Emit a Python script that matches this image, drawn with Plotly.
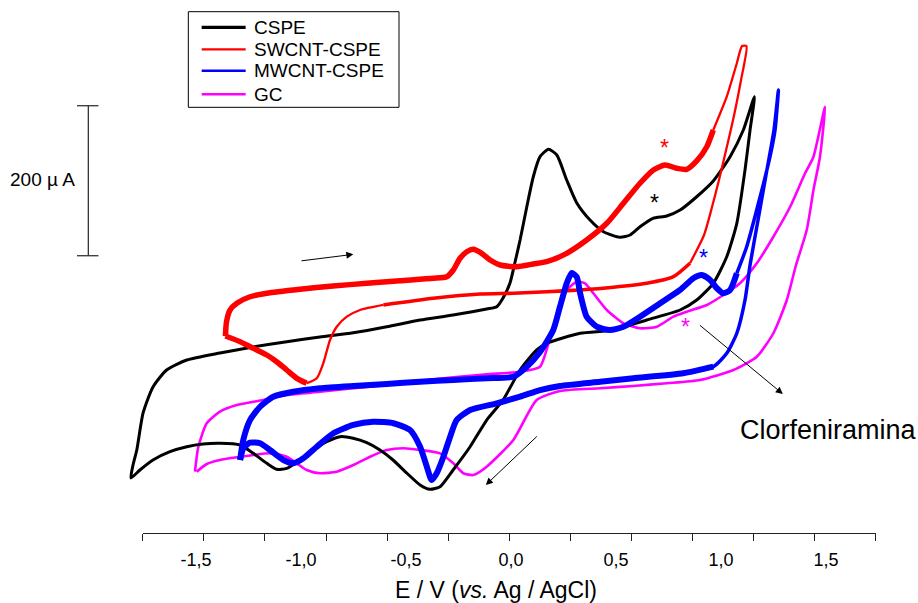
import plotly.graph_objects as go

# ---------------- data (E in V vs Ag/AgCl, I in µA, curves offset as in the figure) ----------------
# CSPE (black)
cspe_fwd_E = [-1.810, -1.800, -1.782, -1.752, -1.705, -1.640, -1.544, -1.386, -1.229, -1.068,
              -0.910, -0.752, -0.592, -0.433, -0.276, -0.116, -0.068, -0.038, -0.005, 0.019,
              0.043, 0.075, 0.106, 0.138, 0.178, 0.218, 0.265, 0.313, 0.376, 0.440,
              0.519, 0.567, 0.614, 0.676, 0.741, 0.805, 0.884, 0.963, 1.043, 1.106, 1.159]
cspe_fwd_I = [16, 33.3, 53.3, 102.7, 137.3, 160, 173.3, 182.7, 190.7, 197.7,
              204, 209.7, 217.7, 226.7, 233.3, 241.3, 244.4, 256, 276, 304,
              333.3, 377.7, 417.7, 444.4, 454.3, 446.7, 413.3, 382.7, 360, 344.4,
              337, 340, 351, 362.3, 365.3, 373.3, 391, 412, 444.4, 480, 524.4]
cspe_rev_E = [1.138, 1.114, 1.075, 1.027, 0.963, 0.884, 0.805, 0.646, 0.487, 0.329,
              0.170, 0.122, 0.043, -0.038, -0.116, -0.195, -0.276, -0.338, -0.386, -0.433,
              -0.497, -0.562, -0.624, -0.687, -0.752, -0.814, -0.878, -0.943, -1.005, -1.068,
              -1.116, -1.163, -1.229, -1.290, -1.386, -1.467, -1.544, -1.624, -1.705, -1.767, -1.810]
cspe_rev_I = [480, 426.7, 355.6, 311, 275.6, 253.3, 240, 226.7, 213.3, 209,
              195.6, 186.7, 160, 120, 93.3, 57.7, 26.7, 4.4, 0.9, 6.7,
              22.7, 40, 53.3, 63.1, 69, 71.1, 64.4, 53.3, 40, 28.9,
              27.6, 35.6, 49.3, 60, 62.3, 61.3, 57.7, 51.1, 40, 26.7, 16]

# SWCNT-CSPE (red)
sw_fwd_E = [-1.360, -1.355, -1.338, -1.306, -1.243, -1.163, -1.005, -0.848, -0.687, -0.529,
            -0.371, -0.306, -0.275, -0.243, -0.211, -0.180, -0.140, -0.100, -0.052, 0.027,
            0.106, 0.170, 0.265, 0.360, 0.456, 0.535, 0.614, 0.678, 0.733, 0.789,
            0.837, 0.884, 0.932, 0.963, 1.027, 1.075, 1.100]
sw_fwd_I = [205.3, 224, 240, 249, 257.7, 262.3, 267.6, 272, 275.6, 279.1,
            282.3, 284.4, 293.3, 309, 317.7, 321, 315.6, 306.7, 300, 297.7,
            301.3, 304.4, 315.6, 333.3, 355.6, 382.3, 409, 426.7, 433.3, 429,
            427.6, 438.7, 457.7, 480, 524.4, 569, 592]
sw_rev_E = [1.121, 1.095, 1.057, 1.024, 0.990, 0.957, 0.919, 0.852, 0.773, 0.646,
            0.487, 0.329, 0.170, 0.011, -0.148, -0.370, -0.608, -0.719, -0.782, -0.830,
            -0.862, -0.894, -0.925, -0.973, -1.020, -1.068, -1.116, -1.163, -1.227, -1.290, -1.360]
sw_rev_I = [592, 546.7, 493.3, 453.3, 413.3, 377.3, 340, 302.3, 284.4, 275.6,
            270.3, 266.7, 264.4, 262.3, 261.3, 255.6, 246.7, 240, 231.1, 217.7,
            200, 169, 148.9, 142.3, 148.9, 160, 171.1, 180, 188.9, 197.7, 205.3]

# MWCNT-CSPE (blue)
mw_fwd_E = [-1.290, -1.275, -1.243, -1.195, -1.132, -1.037, -0.910, -0.751, -0.592, -0.433,
            -0.275, -0.116, 0.011, 0.075, 0.138, 0.201, 0.233, 0.265, 0.289, 0.313,
            0.329, 0.360, 0.408, 0.471, 0.535, 0.614, 0.710, 0.805, 0.868, 0.908,
            0.948, 0.980, 1.011, 1.043, 1.075, 1.122, 1.186, 1.233, 1.257, 1.273]
mw_fwd_I = [40, 66.7, 93.3, 111, 124.4, 131, 135.6, 138.7, 141.3, 144.4,
            146.7, 149, 151, 164.4, 184, 213.3, 244.4, 275.6, 289.3, 284,
            262.3, 231.1, 217.7, 213.3, 217.7, 231.1, 249, 266.7, 282.3, 286.7,
            280, 269, 262.3, 266.7, 289, 324.4, 391, 444.4, 480, 533.3]
mw_rev_E = [1.252, 1.214, 1.176, 1.138, 1.114, 1.075, 1.027, 0.963, 0.820, 0.582,
            0.424, 0.233, 0.138, 0.043, -0.068, -0.195, -0.259, -0.290, -0.322, -0.354,
            -0.378, -0.401, -0.433, -0.481, -0.560, -0.656, -0.751, -0.846, -0.925, -0.989,
            -1.037, -1.084, -1.148, -1.195, -1.243, -1.275, -1.290]
mw_rev_I = [480, 420, 360, 300, 253.3, 209, 182.3, 164.4, 155.6, 149,
            144.4, 138.7, 133.3, 124.4, 115.6, 106.7, 93.3, 71.1, 44.4, 22.3,
            13.3, 31.1, 57.7, 80, 89, 91.1, 86.7, 75.6, 57.7, 42.3,
            35.6, 40, 53.3, 62.3, 63.1, 55.6, 40]

# GC (magenta)
gc_fwd_E = [-1.505, -1.489, -1.449, -1.386, -1.306, -1.180, -1.068, -0.910, -0.751, -0.592,
            -0.433, -0.275, -0.116, 0.043, 0.138, 0.176, 0.218, 0.265, 0.313, 0.352,
            0.392, 0.456, 0.535, 0.614, 0.694, 0.773, 0.837, 0.932, 1.011, 1.090,
            1.170, 1.249, 1.329, 1.400, 1.440, 1.495]
gc_fwd_I = [24.4, 57.7, 88.9, 104.4, 113.3, 120, 126.7, 131, 135.6, 140,
            145.7, 150.3, 154.3, 157.7, 164.4, 193.3, 231.1, 266.7, 277.7, 275.6,
            262.3, 240, 222.3, 215.6, 217.7, 231.1, 237.7, 246.7, 260, 275.6,
            302.3, 337.7, 377.7, 422.3, 444.4, 511.1]
gc_rev_E = [1.471, 1.440, 1.408, 1.357, 1.313, 1.249, 1.170, 1.059, 0.900, 0.741,
            0.582, 0.424, 0.233, 0.122, 0.011, -0.116, -0.180, -0.227, -0.275, -0.338,
            -0.433, -0.513, -0.592, -0.671, -0.751, -0.830, -0.910, -0.973, -1.020, -1.068,
            -1.148, -1.227, -1.306, -1.386, -1.449, -1.497]
gc_rev_I = [444.4, 400, 346.7, 300, 253.3, 209, 177.7, 160, 146.7, 142.3,
            138.7, 135.6, 132, 120, 66.7, 31.1, 20, 22.3, 35.6, 48.9,
            53.3, 55.6, 53.3, 44.4, 33.3, 24.4, 22.3, 26.7, 35.6, 44.4,
            48.9, 46.7, 43.6, 40, 34.7, 24.4]

tick_vals = [-1.5, -1.0, -0.5, 0.0, 0.5, 1.0, 1.5]
tick_text = ["-1,5", "-1,0", "-0,5", "0,0", "0,5", "1,0", "1,5"]

legend_names = ["CSPE", "SWCNT-CSPE", "MWCNT-CSPE", "GC"]

# peak markers (asterisks) : (E, I, colour)
stars = [(0.729, 456, "#ff0000"), (0.681, 383, "#000000"),
         (0.914, 309, "#0000ff"), (0.833, 217, "#ff00ff")]

BLACK, RED, BLUE, MAG = "#000000", "#ff0000", "#0000ff", "#ff00ff"
FONT = "Liberation Sans, Arial, sans-serif"

fig = go.Figure()


def seg(xs, ys, color, width):
    fig.add_trace(go.Scatter(
        x=xs, y=ys, mode="lines", showlegend=False,
        line=dict(color=color, width=width, shape="spline", smoothing=0.6),
        hoverinfo="skip"))


# GC
seg(gc_fwd_E + gc_rev_E, gc_fwd_I + gc_rev_I, MAG, 2.6)
# CSPE
seg(cspe_fwd_E + cspe_rev_E, cspe_fwd_I + cspe_rev_I, BLACK, 3.0)
# SWCNT-CSPE
seg(sw_fwd_E[:34], sw_fwd_I[:34], RED, 5.5)
seg(sw_fwd_E[33:] + sw_rev_E[:8], sw_fwd_I[33:] + sw_rev_I[:8], RED, 2.3)
seg(sw_rev_E[7:17], sw_rev_I[7:17], RED, 3.6)
seg(sw_rev_E[16:24], sw_rev_I[16:24], RED, 2.3)
seg(sw_rev_E[23:], sw_rev_I[23:], RED, 5.5)
# MWCNT-CSPE
seg(mw_fwd_E[:35], mw_fwd_I[:35], BLUE, 6)
seg(mw_fwd_E[34:] + mw_rev_E[:9], mw_fwd_I[34:] + mw_rev_I[:9], BLUE, 3.5)
seg(mw_rev_E[7:], mw_rev_I[7:], BLUE, 6)

# empty trace that activates the tick-mark axis (x2)
fig.add_trace(go.Scatter(x=[], y=[], xaxis="x2", yaxis="y", showlegend=False, hoverinfo="skip"))

annotations = []
for e, i, c in stars:
    annotations.append(dict(x=e, y=i, xref="x", yref="y", text="*", showarrow=False,
                            xanchor="center", yanchor="middle",
                            font=dict(size=23, color=c, family=FONT)))

# scan-direction arrows and analyte arrow
arrows = [((-1.005, 305.3), (-0.751, 314.2)),
          ((0.130, 73.3), (-0.120, 6.7)),
          ((0.892, 221.3), (1.294, 128.0))]
for (te, ti), (he, hi) in arrows:
    annotations.append(dict(x=he, y=hi, ax=te, ay=ti, xref="x", yref="y", axref="x", ayref="y",
                            text="", showarrow=True, arrowhead=2, arrowsize=1.4,
                            arrowwidth=1, arrowcolor="#000000", standoff=0, startstandoff=0))

annotations.append(dict(x=1.510, y=80, xref="x", yref="y", text="Clorfeniramina",
                        xanchor="center", yanchor="middle", showarrow=False,
                        font=dict(size=27, color="#000000", family=FONT)))
annotations.append(dict(x=-0.10, y=0.69, xref="paper", yref="paper", text="200 µ A",
                        xanchor="center", yanchor="middle", showarrow=False,
                        font=dict(size=19, color="#000000", family=FONT)))
annotations.append(dict(x=0.482, y=-0.111, xref="paper", yref="paper",
                        text="E / V (<i>vs.</i> Ag / AgCl)", showarrow=False,
                        xanchor="center", yanchor="middle",
                        font=dict(size=23, color="#000000", family=FONT)))

# 200 µA scale bar
sb = dict(type="line", xref="paper", yref="paper", line=dict(color="#333333", width=1.3))
shapes = [dict(sb, x0=-0.0406, x1=-0.0406, y0=0.5405, y1=0.8329),
          dict(sb, x0=-0.0551, x1=-0.0276, y0=0.8329, y1=0.8329),
          dict(sb, x0=-0.0551, x1=-0.0276, y0=0.5405, y1=0.5405)]

# legend box (drawn by hand to match the reference layout)
shapes.append(dict(type="rect", xref="paper", yref="paper", x0=0.0876, x1=0.3577,
                   y0=0.8298, y1=1.0162, line=dict(color="#000000", width=1),
                   fillcolor="white", layer="above"))
leg_rows = [0.9858, 0.9429, 0.9012, 0.8552]
leg_cols = [(BLACK, 3.2), (RED, 2.3), (BLUE, 2.6), (MAG, 2.6)]
for name, yy, (c, w) in zip(legend_names, leg_rows, leg_cols):
    shapes.append(dict(type="line", xref="paper", yref="paper", x0=0.1047, x1=0.1611,
                       y0=yy, y1=yy, line=dict(color=c, width=w), layer="above"))
    annotations.append(dict(x=0.1688, y=yy, xref="paper", yref="paper", text=name,
                            xanchor="left", yanchor="middle", showarrow=False,
                            font=dict(size=19, color="#000000", family=FONT)))

fig.update_layout(
    width=918, height=603,
    margin=dict(l=120, r=18, t=20, b=70),
    paper_bgcolor="white", plot_bgcolor="rgba(0,0,0,0)",
    showlegend=False,
    font=dict(family=FONT, color="#000000"),
    xaxis=dict(range=[-1.862, 1.852], showline=False, showgrid=False, zeroline=False,
               tickvals=tick_vals, ticktext=tick_text, ticks="outside", ticklen=10,
               tickcolor="rgba(0,0,0,0)", tickfont=dict(size=18, family=FONT)),
    xaxis2=dict(domain=[0.0291, 0.9692], range=[0, 12], anchor="y", side="bottom",
                showline=True, linecolor="#222222", linewidth=1.3,
                tickmode="array", tickvals=list(range(13)), ticks="outside", ticklen=7,
                tickwidth=1.3, tickcolor="#222222", showticklabels=False,
                showgrid=False, zeroline=False),
    yaxis=dict(range=[-57.33, 626.67], visible=False),
    annotations=annotations, shapes=shapes,
)

fig.write_html("out.html")
